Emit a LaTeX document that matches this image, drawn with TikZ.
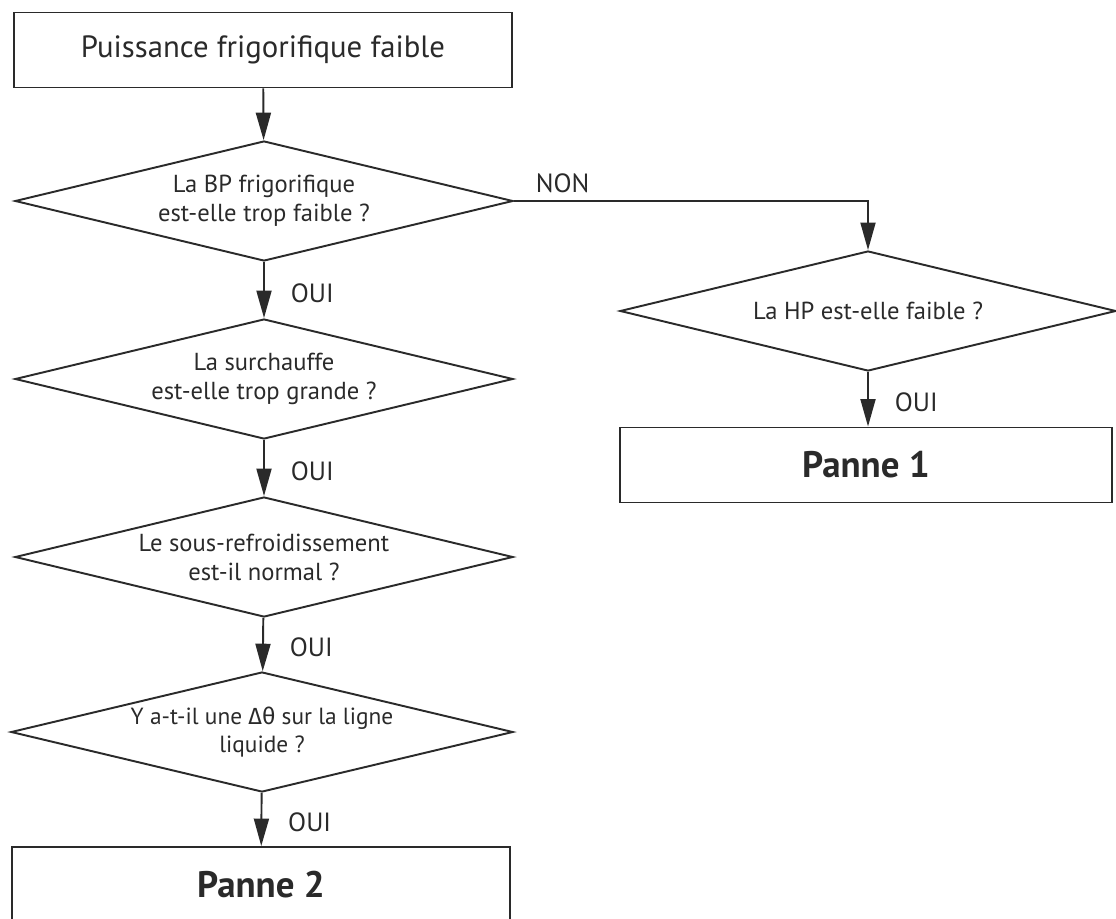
\documentclass[tikz,border=0pt]{standalone}
\usepackage{fontspec}
\setmainfont{PT Sans}
\newfontfamily\grkfont{Fira Sans}
\usepackage{tikz}
\usetikzlibrary{arrows.meta,positioning,shapes.geometric}
\definecolor{inkgray}{RGB}{42,42,42}

\begin{document}
\begin{tikzpicture}[
    font=\fontsize{14}{16.5}\selectfont, text=inkgray, draw=inkgray,
    boxnode/.style={draw=inkgray, line width=1.1pt, rectangle, minimum width=9.96cm,
      minimum height=1.5cm, inner sep=0pt},
    asknode/.style={draw=inkgray, line width=1.1pt, diamond, aspect=4.15, inner sep=0pt,
      minimum width=9.96cm, minimum height=2.4cm, align=center},
    flow/.style={draw=inkgray, line width=1.1pt,
      -{Triangle[length=0.55cm,width=0.3cm]}},
    yes/.style={right=0.4cm, font=\fontsize{15}{17}\selectfont, pos=0.55}
  ]
    \useasboundingbox (0,0) rectangle (22.32,-18.36);
    % left column
    \node[boxnode, font=\fontsize{17.5}{20}\selectfont] (start) at (5.26,-1.00)
      {Puissance frigorifique faible};
    \node[asknode] (bp) at (5.28,-4.02)
      {La BP frigorifique\\est-elle trop faible ?};
    \node[asknode] (surch) at (5.28,-7.58)
      {La surchauffe\\est-elle trop grande ?};
    \node[asknode] (sousref) at (5.28,-11.14)
      {Le sous-refroidissement\\est-il normal ?};
    \node[asknode, minimum width=10.04cm, font=\fontsize{13.3}{15.5}\selectfont]
      (dtheta) at (5.24,-14.64)
      {Y a-t-il une {\grkfont Δθ} sur la ligne\\liquide ?};
    \node[boxnode, font=\fontsize{21}{24}\selectfont\bfseries] (panne2) at (5.22,-17.69)
      {Panne 2};
    % right column
    \node[asknode, minimum width=9.92cm] (hp) at (17.36,-6.22)
      {La HP est-elle faible ?};
    \node[boxnode, minimum width=9.84cm, font=\fontsize{21}{24}\selectfont\bfseries]
      (panne1) at (17.32,-9.30) {Panne 1};

    \draw[flow] (start) -- (bp);
    \draw[flow] (bp) -- node[yes]{OUI} (surch);
    \draw[flow] (surch) -- node[yes]{OUI} (sousref);
    \draw[flow] (sousref) -- node[yes]{OUI} (dtheta);
    \draw[flow] (dtheta) -- node[yes]{OUI} (panne2);
    \draw[flow] (bp.east) node[above right=0.02cm and 0.3cm,
      font=\fontsize{15}{17}\selectfont]{NON} -| (hp.north);
    \draw[flow] (hp) -- node[yes]{OUI} (panne1.north -| hp.south);
  \end{tikzpicture}
\end{document}
